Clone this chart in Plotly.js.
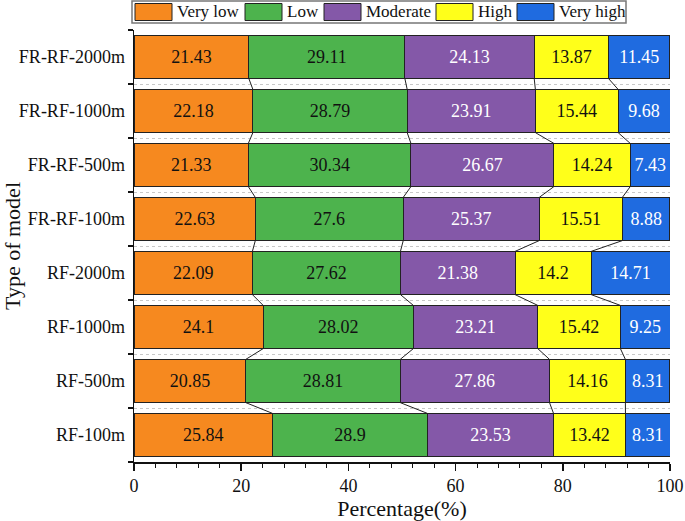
<!DOCTYPE html>
<html>
<head>
<meta charset="utf-8">
<script src="https://cdn.plot.ly/plotly-3.0.1.min.js"></script>
<style>html,body{margin:0;padding:0;background:#fff;}#chart{width:685px;height:521px;}</style>
</head>
<body>
<div id="chart"></div>
<script>
// Categories, bottom to top
const models = ["RF-100m","RF-500m","RF-1000m","RF-2000m","FR-RF-100m","FR-RF-500m","FR-RF-1000m","FR-RF-2000m"];
const levelNames = ["Very low","Low","Moderate","High","Very high"];
const veryLow  = [25.84, 20.85, 24.1, 22.09, 22.63, 21.33, 22.18, 21.43];
const low      = [28.9, 28.81, 28.02, 27.62, 27.6, 30.34, 28.79, 29.11];
const moderate = [23.53, 27.86, 23.21, 21.38, 25.37, 26.67, 23.91, 24.13];
const high     = [13.42, 14.16, 15.42, 14.2, 15.51, 14.24, 15.44, 13.87];
const veryHigh = [8.31, 8.31, 9.25, 14.71, 8.88, 7.43, 9.68, 11.45];

const series = [veryLow, low, moderate, high, veryHigh];
const colors = ["#F6891F", "#4DB34D", "#8458A8", "#FFFF1A", "#1F6BE0"];
const textColors = ["#111", "#111", "#fff", "#111", "#fff"];
const FONT = "Liberation Serif, Times New Roman, serif";
const BAR_W = 0.8;

const traces = series.map((vals, k) => ({
  type: "bar",
  orientation: "h",
  name: levelNames[k],
  y: models,
  x: vals,
  width: BAR_W,
  marker: {color: colors[k], line: {color: "#222", width: 1}},
  text: vals.map(v => String(v)),
  textposition: "inside",
  insidetextanchor: "middle",
  textangle: 0,
  constraintext: "none",
  textfont: {family: FONT, size: 18, color: textColors[k]},
  insidetextfont: {family: FONT, size: 18, color: textColors[k]},
  hoverinfo: "x+y+name",
  showlegend: false
}));

// connector lines between consecutive bars, at cumulative boundaries
const shapes = [];
for (let i = 0; i < models.length - 1; i++) {
  let cA = 0, cB = 0;
  for (let k = 0; k < series.length - 1; k++) {
    cA += series[k][i];
    cB += series[k][i + 1];
    shapes.push({
      type: "line", xref: "x", yref: "y",
      x0: cA, y0: i + BAR_W / 2, x1: cB, y1: i + 1 - BAR_W / 2,
      line: {color: "#222", width: 1}
    });
  }
}

// custom legend (paper coords) matching the reference boxes
const L = 134, W = 536, B = 462, H = 432;
const px = v => (v - L) / W;
const py = v => (B - v) / H;
shapes.push({type: "rect", xref: "paper", yref: "paper",
  x0: px(132), x1: px(626), y0: py(23), y1: py(1),
  line: {color: "#777", width: 1.5}, fillcolor: "#fff"});
const legBoxX = [135, 245, 324, 436, 517];
const annotations = [];
levelNames.forEach((n, k) => {
  shapes.push({type: "rect", xref: "paper", yref: "paper",
    x0: px(legBoxX[k]), x1: px(legBoxX[k] + 37), y0: py(20.5), y1: py(3.5),
    line: {color: "#222", width: 1}, fillcolor: colors[k]});
  annotations.push({xref: "paper", yref: "paper", x: px(legBoxX[k] + 40), y: py(12),
    xanchor: "left", yanchor: "middle", showarrow: false, text: n,
    font: {family: FONT, size: 17, color: "#111"}});
});

const layout = {
  width: 685, height: 521,
  margin: {l: 134, r: 15, t: 30, b: 59},
  paper_bgcolor: "#fff", plot_bgcolor: "#fff",
  barmode: "stack",
  showlegend: false,
  font: {family: FONT, color: "#111"},
  xaxis: {
    range: [0, 100], tick0: 0, dtick: 20,
    showgrid: false, zeroline: false,
    showline: true, linecolor: "#111", linewidth: 1.5,
    ticks: "outside", ticklen: 7, tickwidth: 1.5, tickcolor: "#111",
    minor: {dtick: 4, ticks: "outside", ticklen: 4, tickwidth: 1, tickcolor: "#111", showgrid: false},
    tickfont: {family: FONT, size: 18, color: "#111"},
    title: {text: "Percentage(%)", font: {family: FONT, size: 22, color: "#111"}, standoff: 6}
  },
  yaxis: {
    type: "category",
    tickson: "boundaries",
    showgrid: true, gridcolor: "#c8c8c8", griddash: "dot", gridwidth: 1,
    zeroline: false,
    showline: true, linecolor: "#111", linewidth: 1.5,
    ticks: "outside", ticklen: 5, tickwidth: 1.5, tickcolor: "#111",
    ticklabelstandoff: 4,
    tickfont: {family: FONT, size: 18, color: "#111"},
    title: {text: "Type of model", font: {family: FONT, size: 22, color: "#111"}, standoff: 6}
  },
  shapes: shapes,
  annotations: annotations
};

Plotly.newPlot("chart", traces, layout, {displayModeBar: false, staticPlot: true});
</script>
</body>
</html>
